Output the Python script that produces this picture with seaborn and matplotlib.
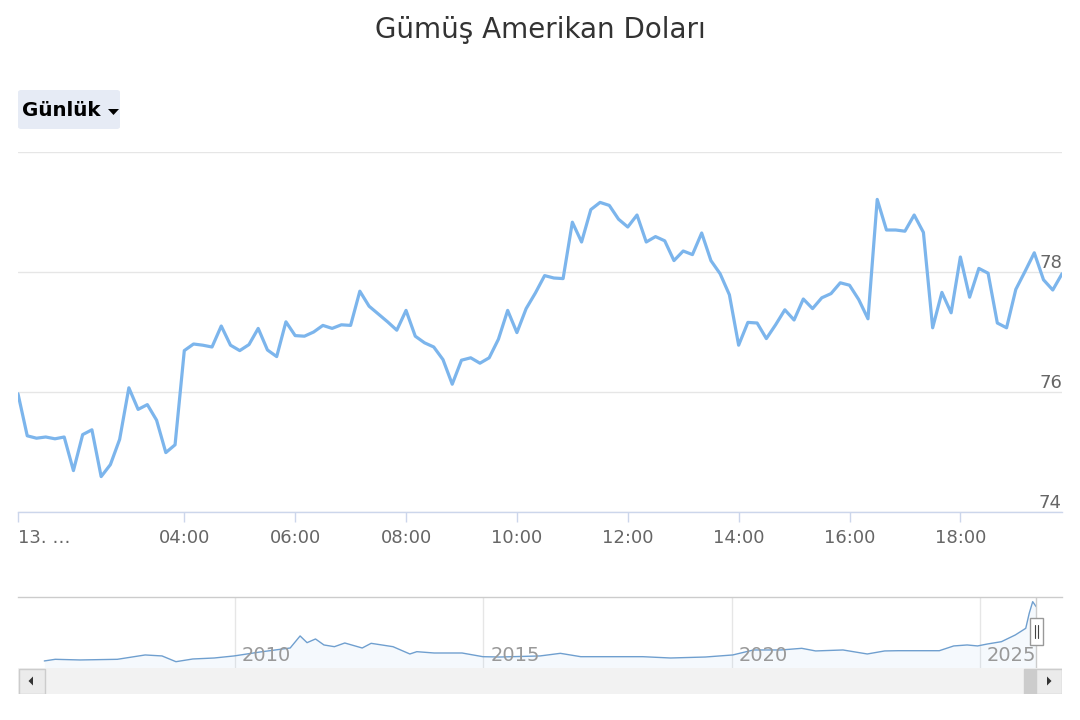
import numpy as np
import pandas as pd
import matplotlib
matplotlib.use("Agg")
import matplotlib.pyplot as plt
import matplotlib.patches as mpatches
import seaborn as sns

# ---------------- data ----------------
title = "Gümüş Amerikan Doları"
range_button = "Günlük"

start_hour = 1.0          # first sample (01:00)
step_minutes = 10         # sampling interval

prices = [
    75.97, 75.27, 75.23, 75.25, 75.22, 75.25, 74.69, 75.29, 75.37, 74.59,
    74.79, 75.21, 76.07, 75.71, 75.79, 75.53, 74.99, 75.12, 76.69, 76.80,
    76.78, 76.75, 77.10, 76.78, 76.69, 76.79, 77.06, 76.70, 76.59,
    77.17, 76.94, 76.93, 77.00, 77.11, 77.06, 77.12, 77.11, 77.68, 77.43,
    77.30, 77.17, 77.03, 77.36, 76.93, 76.82, 76.75, 76.54, 76.13, 76.53,
    76.57, 76.48, 76.57, 76.88, 77.36, 76.99, 77.39,
    77.65, 77.94, 77.90, 77.89, 78.83, 78.50, 79.04, 79.16, 79.11, 78.88,
    78.75, 78.95, 78.50, 78.59, 78.52, 78.19, 78.35, 78.29, 78.65, 78.19,
    77.97, 77.62, 76.78, 77.16, 77.15, 76.89, 77.12, 77.37, 77.20,
    77.55, 77.39, 77.57, 77.64, 77.82, 77.78, 77.54, 77.22, 79.21, 78.70,
    78.70, 78.68, 78.95, 78.66, 77.07, 77.66, 77.32, 78.25, 77.58, 78.06,
    77.98, 77.15, 77.07, 77.71, 78.01, 78.32, 77.87, 77.70, 77.97,
]

x_ticks = [1, 4, 6, 8, 10, 12, 14, 16, 18]
x_tick_labels = ["13. …", "04:00", "06:00", "08:00", "10:00",
                 "12:00", "14:00", "16:00", "18:00"]
y_ticks = [74, 76, 78, 80]
y_tick_labels = ["74", "76", "78", ""]

nav_years = [
    2006.16, 2006.38, 2006.88, 2007.63, 2008.19, 2008.53, 2008.81, 2009.15,
    2009.58, 2009.98, 2010.50, 2011.11, 2011.31, 2011.45, 2011.62, 2011.79,
    2012.00, 2012.21, 2012.56, 2012.74, 2013.18, 2013.52, 2013.66, 2014.01,
    2014.57, 2014.99, 2015.33, 2016.14, 2016.55, 2016.96, 2018.21, 2018.77,
    2019.47, 2020.02, 2020.44, 2020.99, 2021.41, 2021.69, 2022.24, 2022.73,
    2023.08, 2023.35, 2024.18, 2024.47, 2024.74, 2024.95, 2025.15, 2025.43,
    2025.71, 2025.92, 2025.99, 2026.06, 2026.13,
]
nav_values = [
    10.9, 12.9, 12.1, 12.9, 18.2, 17.0, 10.0, 13.3,
    14.5, 17.0, 21.8, 26.7, 41.4, 33.2, 37.7, 30.4,
    28.3, 32.8, 26.7, 32.4, 28.3, 19.4, 22.2, 20.6,
    20.6, 16.1, 15.7, 17.0, 20.2, 16.1, 16.1, 14.5,
    15.7, 18.2, 24.3, 24.3, 26.3, 23.1, 24.3, 19.4,
    23.1, 23.4, 23.4, 29.2, 30.4, 29.2, 31.6, 34.4,
    42.6, 50.7, 69.0, 83.2, 77.1,
]
nav_year_ticks = [2010, 2015, 2020, 2025]
nav_xlim = (2005.63, 2026.65)
nav_ylim = (2.3, 88.9)

# ---------------- style ----------------
sns.set_theme(style="white")
plt.rcParams['font.family'] = ['DejaVu Sans']

W, H = 1080, 720
fig = plt.figure(figsize=(W / 100, H / 100), dpi=100)
fig.patch.set_facecolor("white")

line_color = "#7cb5ec"
grid_color = "#e6e6e6"
label_color = "#666666"

# ---------------- main chart ----------------
ax = fig.add_axes([18 / W, 1 - 512 / H, 1044 / W, 360 / H])
hours = start_hour + np.arange(len(prices)) * step_minutes / 60.0
df = pd.DataFrame({"hour": hours, "price": prices})
sns.lineplot(data=df, x="hour", y="price", ax=ax, color=line_color,
             linewidth=2.3, solid_joinstyle="round", solid_capstyle="round",
             zorder=3)
ax.set_xlim(hours[0], hours[-1])
ax.set_ylim(y_ticks[0], y_ticks[-1])
ax.set_xlabel("")
ax.set_ylabel("")
ax.set_facecolor("white")

ax.set_yticks(y_ticks)
ax.yaxis.grid(True, color=grid_color, linewidth=1)
ax.xaxis.grid(False)
ax.tick_params(axis="y", left=False, right=False, labelleft=False)
for s in ["top", "left", "right"]:
    ax.spines[s].set_visible(False)
ax.spines["bottom"].set_color("#ccd6eb")
ax.spines["bottom"].set_linewidth(1)

ax.set_xticks(x_ticks)
ax.set_xticklabels(x_tick_labels)
ax.tick_params(axis="x", bottom=True, length=7, width=1, color="#ccd6eb",
               labelsize=13, labelcolor=label_color, pad=5)
ax.get_xticklabels()[0].set_horizontalalignment("left")

for v, lab in zip(y_ticks, y_tick_labels):
    if lab:
        ax.annotate(lab, xy=(1, v), xycoords=("axes fraction", "data"),
                    xytext=(0, 3), textcoords="offset points",
                    ha="right", va="baseline", fontsize=13, color=label_color)

# ---------------- navigator ----------------
nav = fig.add_axes([18 / W, 1 - 668 / H, 1044 / W, 71 / H])
sns.lineplot(x=nav_years, y=nav_values, ax=nav, color="#6f9fcf",
             linewidth=1.0, zorder=3)
nav.fill_between(nav_years, nav_values, nav_ylim[0], color=line_color,
                 alpha=0.07, linewidth=0, zorder=2)
nav.set_xlim(*nav_xlim)
nav.set_ylim(*nav_ylim)
nav.set_xticks([])
nav.set_yticks([])
nav.set_xlabel("")
nav.set_ylabel("")
nav.grid(False)
for s in ["bottom", "left", "right"]:
    nav.spines[s].set_visible(False)
nav.spines["top"].set_color("#cccccc")
nav.spines["top"].set_linewidth(1)

for yr in nav_year_ticks:
    nav.axvline(yr, color=grid_color, linewidth=1, zorder=1)
    nav.annotate(str(yr), xy=(yr, 0), xycoords=("data", "axes fraction"),
                 xytext=(5, 5), textcoords="offset points", ha="left",
                 va="baseline", fontsize=14, color="#999999", zorder=4)

# handle at the end of the data
px_per_year = 1044 / (nav_xlim[1] - nav_xlim[0])
end = nav_years[-1]
nav.axvline(end, color="#cccccc", linewidth=1, zorder=4)
hw = 6.5 / px_per_year
handle = mpatches.Rectangle((end - hw, 0.33), 2 * hw, 0.37,
                            transform=nav.get_xaxis_transform(),
                            facecolor="white", edgecolor="#999999",
                            linewidth=1, zorder=5, clip_on=False)
nav.add_patch(handle)
for dx in (-1.6, 1.6):
    nav.plot([end + dx / px_per_year] * 2, [0.42, 0.61],
             transform=nav.get_xaxis_transform(), color="#444444",
             linewidth=0.8, zorder=6, clip_on=False)

# ---------------- scrollbar ----------------
sb = fig.add_axes([18 / W, 1 - 694 / H, 1044 / W, 26 / H])
sb.set_xlim(0, 1044)
sb.set_ylim(0, 26)
sb.axis("off")
sb.add_patch(mpatches.Rectangle((0, 0), 1044, 26, facecolor="#f2f2f2",
                                edgecolor="none"))
thumb_right = (end - nav_xlim[0]) * px_per_year
sb.add_patch(mpatches.Rectangle((thumb_right - 12, 0.5), 12, 25,
                                facecolor="#cccccc", edgecolor="#cccccc"))
sb.add_patch(mpatches.Rectangle((0.5, 0.5), 26, 25, facecolor="#ebebeb",
                                edgecolor="#cccccc", linewidth=1))
sb.add_patch(mpatches.Rectangle((1043.5 - 26, 0.5), 26, 25,
                                facecolor="#ebebeb", edgecolor="#cccccc",
                                linewidth=1))
sb.add_patch(mpatches.Polygon([[10.5, 13], [15, 17.5], [15, 8.5]],
                              closed=True, facecolor="#333333",
                              edgecolor="none"))
sb.add_patch(mpatches.Polygon([[1033.5, 13], [1029, 17.5], [1029, 8.5]],
                              closed=True, facecolor="#333333",
                              edgecolor="none"))

# ---------------- title & range button ----------------
fig.text(0.5, 1 - 30 / H, title, ha="center", va="center", fontsize=20,
         color="#333333")

btn = mpatches.FancyBboxPatch((18 / W, 1 - 129 / H), 102 / W, 39 / H,
                              boxstyle="round,pad=0,rounding_size=0.003",
                              transform=fig.transFigure,
                              facecolor="#e6ebf5", edgecolor="none")
fig.patches.append(btn)
fig.text(22 / W, 1 - 110 / H, range_button, ha="left", va="center",
         fontsize=14.3, fontweight="bold", color="#000000")
arrow = mpatches.Polygon([[108 / W, 1 - 109 / H], [119 / W, 1 - 109 / H],
                          [113.5 / W, 1 - 115 / H]], closed=True,
                         transform=fig.transFigure, facecolor="#000000",
                         edgecolor="none")
fig.patches.append(arrow)

fig.savefig("out.png", dpi=100, facecolor="white")
